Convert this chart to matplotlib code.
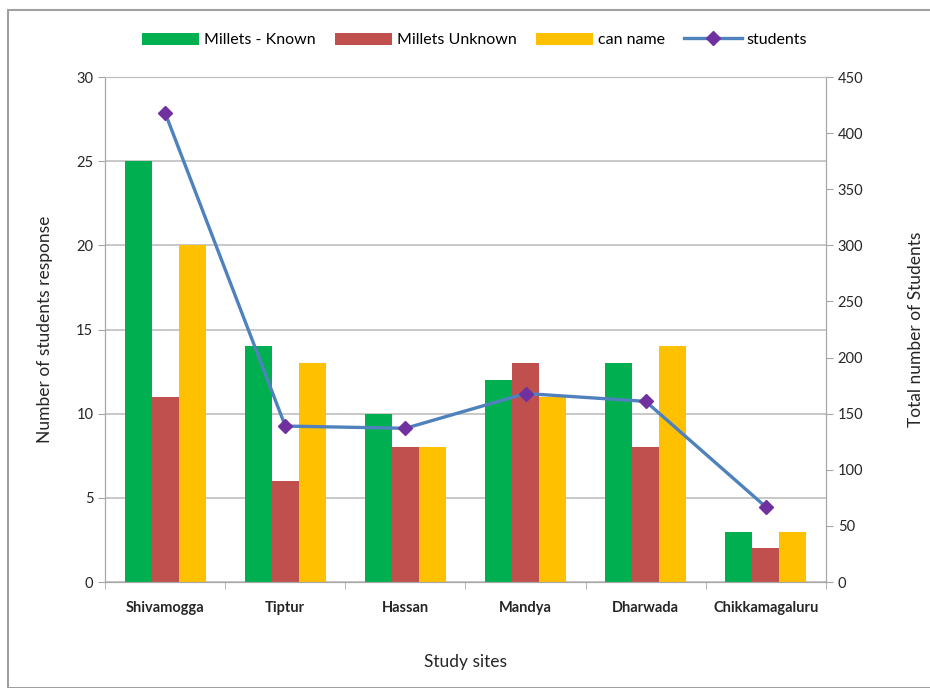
import numpy as np
import matplotlib.pyplot as plt
from matplotlib.patches import Rectangle

# Millet awareness survey across study sites
sites = ['Shivamogga', 'Tiptur', 'Hassan', 'Mandya', 'Dharwada', 'Chikkamagaluru']
known = [25, 14, 10, 12, 13, 3]
unknown = [11, 6, 8, 13, 8, 2]
can_name = [20, 13, 8, 11, 14, 3]
students = [418, 139, 137, 168, 161, 67]

plt.rcParams['font.family'] = ['Lato', 'DejaVu Sans']

fig = plt.figure(figsize=(9.3, 6.88), dpi=100)
ax = fig.add_axes([0.113, 0.154, 0.775, 0.734])
ax2 = ax.twinx()

x = np.arange(len(sites))
w = 0.225
b1 = ax.bar(x - w, known, w, color='#00B050', label='Millets - Known', zorder=2)
b2 = ax.bar(x, unknown, w, color='#C0504D', label='Millets Unknown', zorder=2)
b3 = ax.bar(x + w, can_name, w, color='#FFC000', label='can name', zorder=2)

ln, = ax2.plot(x, students, color='#4F81BD', lw=2.4, marker='D', markersize=7,
               markerfacecolor='#7030A0', markeredgecolor='#7030A0', label='students')

ax.set_xlim(-0.5, len(sites) - 0.5)
ax.set_ylim(0, 30)
ax.set_yticks(range(0, 31, 5))
ax2.set_ylim(0, 450)
ax2.set_yticks(range(0, 451, 50))

ax.yaxis.grid(True, color='#BFBFBF', lw=1.2, zorder=0)
ax.set_axisbelow(True)

for s in ['left', 'bottom', 'right', 'top']:
    ax.spines[s].set_color('#A6A6A6')
    ax2.spines[s].set_color('#A6A6A6')
ax.spines['top'].set_color('#BFBFBF')
ax2.spines['top'].set_color('#BFBFBF')

# category labels centered, ticks between categories
ax.set_xticks(x)
ax.set_xticklabels(sites, fontsize=10.5, fontweight='bold', color='#262626')
ax.tick_params(axis='x', length=0, pad=14)
ax.set_xticks(np.arange(-0.5, len(sites), 1), minor=True)
ax.tick_params(axis='x', which='minor', length=5, color='#A6A6A6')

ax.tick_params(axis='y', labelsize=10.5, colors='#262626', color='#A6A6A6', length=5)
ax2.tick_params(axis='y', labelsize=10.5, colors='#262626', color='#A6A6A6', length=5)

ax.set_ylabel('Number of students response', fontsize=12.5, color='#262626', labelpad=17)
ax2.set_ylabel('Total number of Students', fontsize=12.5, color='#262626', labelpad=32)
ax.set_xlabel('Study sites', fontsize=12.5, color='#262626', labelpad=28)

fig.legend(handles=[b1, b2, b3, ln], loc='center', bbox_to_anchor=(0.51, 0.942),
           ncol=4, frameon=False, fontsize=11.5, handlelength=3.6, handleheight=0.8,
           columnspacing=1.2, handletextpad=0.3)

# outer chart frame
fig.patches.append(Rectangle((0.009, 0.0), 0.995, 0.986, transform=fig.transFigure,
                             fill=False, edgecolor='#A0A0A0', lw=1.5))

fig.savefig('out.png', dpi=100)
